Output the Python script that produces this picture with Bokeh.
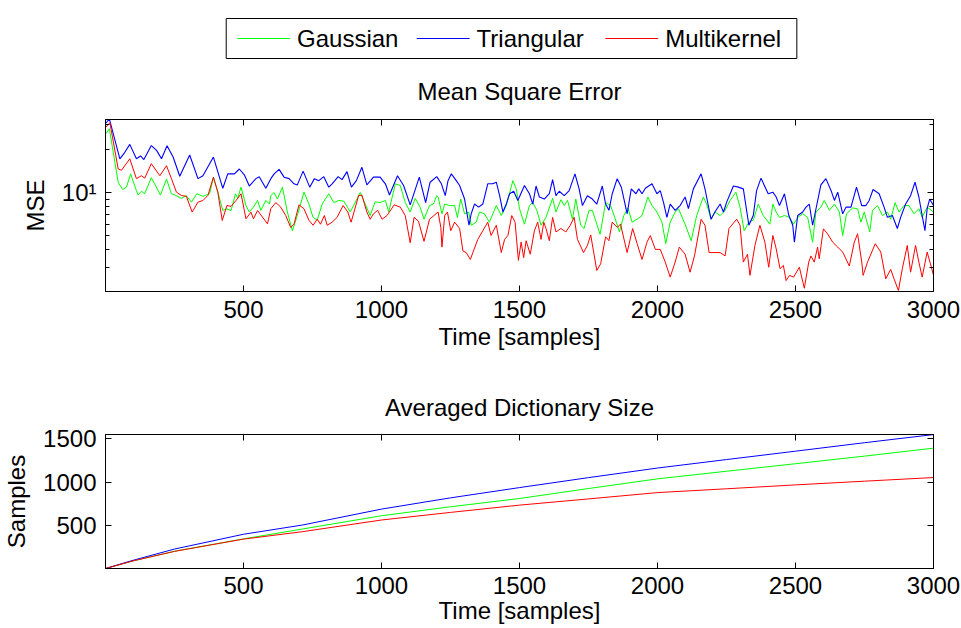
from bokeh.plotting import figure
from bokeh.layouts import column
from bokeh.models import Range1d, FixedTicker, LinearAxis, LogAxis
from bokeh.core.properties import value
from bokeh.embed import file_html
from bokeh.resources import INLINE

FONT = "Liberation Sans"
FS = "24px"
C_GAUSS = "#00ff00"
C_TRI = "#0000ff"
C_MULTI = "#ff0000"

series_names = ["Gaussian", "Triangular", "Multikernel"]
series_colors = [C_GAUSS, C_TRI, C_MULTI]
x_ticks = [500, 1000, 1500, 2000, 2500, 3000]
mse_major_ticks = [10]
mse_minor_ticks = [3, 4, 5, 6, 7, 8, 9, 20, 30]
size_ticks = [500, 1000, 1500]

# ---- Mean square error, Triangular kernel (blue)
tri_mse_t = [1, 14, 52, 70, 88, 112, 127, 139, 166, 185, 203, 223, 245, 269, 305, 335, 353, 391, 425, 443, 467, 485, 503, 521, 545, 557, 581,
             599, 611, 629, 647, 665, 683, 695, 716, 740, 757, 773, 791, 809, 821, 843, 857, 875, 891, 909, 929, 947, 971, 995, 1014, 1029, 1058, 1080, 1104, 1137, 1160, 1176, 1200,
             1205, 1217, 1231, 1241, 1253, 1271, 1283, 1301, 1317, 1325, 1337, 1352, 1367, 1385, 1403, 1416, 1428, 1440, 1452, 1464, 1479, 1494, 1518, 1536, 1548, 1560, 1572, 1590, 1608, 1620, 1632, 1644, 1662, 1680, 1701, 1716, 1728, 1746, 1764, 1780, 1800,
             1812, 1824, 1836, 1854, 1869, 1890, 1905, 1922, 1932, 1944, 1956, 1980, 1998, 2010, 2022, 2034, 2046, 2064, 2082, 2100, 2112, 2130, 2158, 2172, 2194, 2208, 2227, 2239, 2251, 2275, 2293, 2311, 2331, 2347, 2359, 2375, 2401,
             2418, 2430, 2442, 2460, 2476, 2490, 2496, 2508, 2526, 2538, 2550, 2562, 2592, 2610, 2629, 2641, 2653, 2671, 2683, 2701, 2721, 2740, 2755, 2767, 2781, 2803, 2821, 2833, 2851, 2869, 2881, 2899, 2917, 2933, 2947, 2959, 2969, 2977, 2986, 3000]
tri_mse = [30.5, 32.7, 17.2, 19.1, 21.7, 17.2, 18.0, 17.0, 21.3, 19.7, 17.2, 21.2, 17.7, 13.0, 18.3, 12.5, 13.1, 17.7, 10.7, 13.5, 13.5, 14.6, 13.3, 11.1, 12.5, 12.9, 10.7,
           12.5, 13.5, 14.5, 12.8, 12.5, 11.5, 11.3, 14.1, 10.9, 12.5, 12.1, 12.9, 10.9, 11.5, 12.9, 12.3, 14.0, 10.9, 12.1, 15.0, 11.3, 12.8, 12.8, 11.5, 9.6, 13.1, 11.2, 8.2, 12.8, 8.5, 11.8, 12.9,
           12.5, 11.5, 9.5, 12.1, 13.5, 12.1, 11.2, 9.0, 5.9, 7.1, 8.3, 7.9, 8.3, 11.5, 11.5, 11.8, 9.5, 7.3, 8.3, 9.8, 10.2, 8.8, 11.2, 9.8, 8.3, 11.1, 9.3, 9.0, 9.8, 12.3, 9.5, 10.2, 9.5, 10.3, 13.5, 10.6, 8.1, 9.5, 9.0, 8.3, 11.1,
           8.3, 7.5, 9.8, 12.5, 10.9, 7.1, 10.6, 9.8, 10.6, 9.8, 10.7, 11.5, 9.8, 10.3, 8.5, 6.7, 8.3, 7.5, 8.1, 9.3, 7.7, 10.6, 13.5, 10.6, 6.5, 7.3, 8.3, 7.3, 8.6, 11.1, 10.9, 10.6, 5.9, 6.9, 10.3, 12.6, 9.8,
           10.05, 9.3, 8.1, 9.8, 6.9, 5.9, 4.49, 6.9, 7.3, 7.9, 8.3, 5.9, 11.3, 12.5, 10.3, 8.8, 10.05, 7.1, 7.9, 7.9, 10.9, 8.1, 8.1, 8.8, 10.5, 9.8, 7.9, 6.7, 6.9, 5.6, 6.7, 8.3, 9.5, 11.8, 9.3, 6.9, 5.4, 7.7, 9.0, 8.1]

# ---- Mean square error, Gaussian kernel (green)
gauss_mse_t = [1, 14, 46, 62, 76, 91, 112, 118, 130, 142, 166, 199, 221, 239, 257, 275, 293, 311, 331, 353, 377, 391, 407, 425, 440, 455, 471, 479, 491, 509, 521, 536, 551, 563, 581, 594,
               599, 611, 623, 641, 659, 677, 695, 719, 737, 752, 767, 785, 809, 827, 845, 863, 887, 923, 941, 959, 977, 995, 1014, 1026, 1050, 1068, 1086, 1104, 1122, 1140, 1154, 1174, 1188, 1200,
               1205, 1219, 1229, 1247, 1265, 1275, 1287, 1301, 1316, 1325, 1343, 1355, 1373, 1391, 1416, 1434, 1452, 1476, 1488, 1500, 1518, 1536, 1548, 1563, 1578, 1596, 1620, 1632, 1650, 1662, 1674, 1692, 1704, 1722, 1734, 1752, 1764, 1792,
               1812, 1830, 1845, 1862, 1878, 1893, 1908, 1926, 1944, 1965, 1980, 1998, 2016, 2030, 2046, 2064, 2076, 2100, 2122, 2142, 2166, 2178, 2194, 2208, 2227, 2245, 2263, 2284, 2299, 2314, 2331, 2347, 2365, 2383, 2407,
               2418, 2430, 2442, 2460, 2478, 2493, 2508, 2526, 2544, 2562, 2574, 2592, 2604, 2623, 2641, 2659, 2671, 2685, 2707, 2725, 2737, 2749, 2769, 2779, 2797, 2815, 2833, 2845, 2861, 2875, 2893, 2911, 2929, 2947, 2959, 2977, 3000]
gauss_mse = [25.7, 27.9, 11.8, 10.5, 10.9, 13.5, 10.3, 9.6, 10.2, 9.8, 12.7, 9.6, 12.4, 9.8, 9.5, 9.1, 9.5, 8.56, 9.8, 9.4, 9.8, 12.8, 10.05, 7.48, 7.69, 7.48, 9.8, 9.1, 10.9, 8.1, 7.3, 7.9, 8.8, 7.5, 8.8, 8.3,
             9.5, 10.0, 9.0, 10.9, 7.3, 5.4, 6.9, 10.05, 8.3, 6.7, 6.4, 8.3, 9.8, 8.5, 8.8, 8.7, 7.3, 10.0, 8.3, 6.9, 8.6, 8.5, 8.8, 7.3, 11.5, 11.2, 8.5, 7.3, 9.1, 7.9, 6.5, 8.1, 8.3, 9.5,
             9.3, 7.1, 8.3, 8.1, 8.1, 6.7, 9.0, 7.1, 7.3, 5.9, 6.2, 7.3, 7.1, 6.2, 8.1, 6.9, 8.1, 12.1, 10.6, 7.7, 6.0, 8.1, 8.5, 7.5, 5.9, 6.7, 9.1, 7.3, 8.9, 8.1, 8.8, 6.5, 9.0, 5.9, 5.6, 7.5, 7.5, 5.1,
             8.5, 8.1, 6.7, 5.3, 6.9, 7.8, 6.2, 6.5, 6.9, 9.3, 8.1, 7.3, 6.2, 4.4, 6.2, 7.3, 7.7, 6.0, 4.6, 6.9, 9.3, 8.3, 6.5, 7.3, 6.9, 7.5, 8.8, 10.05, 7.9, 5.4, 6.2, 6.4, 8.3, 6.9, 6.0,
             8.3, 7.3, 6.7, 6.9, 6.7, 6.0, 6.7, 7.1, 6.7, 4.49, 7.3, 7.9, 8.8, 7.5, 8.3, 7.3, 5.0, 7.1, 7.8, 7.7, 6.2, 7.3, 5.3, 7.5, 8.1, 6.9, 7.3, 6.5, 8.5, 7.3, 8.1, 8.1, 7.1, 7.7, 6.7, 7.9, 7.3]

# ---- Mean square error, Multikernel (red)
multi_mse_t = [1, 16, 46, 58, 88, 112, 130, 142, 166, 197, 221, 239, 257, 275, 293, 314, 335, 353, 371, 391, 407, 423, 440, 455, 473, 491, 509, 527, 536, 551, 587,
               599, 617, 635, 653, 671, 683, 701, 719, 737, 752, 767, 779, 793, 803, 821, 839, 861, 878, 890, 917, 929, 947, 959, 971, 986, 1002, 1020, 1046, 1068, 1086, 1104, 1118, 1134, 1154, 1174, 1194,
               1205, 1215, 1219, 1229, 1239, 1251, 1265, 1283, 1295, 1307, 1322, 1331, 1349, 1367, 1385, 1397, 1416, 1434, 1446, 1458, 1472, 1484, 1496, 1506, 1515, 1524, 1539, 1554, 1566, 1578, 1588, 1596, 1608, 1620, 1632, 1650, 1668, 1684, 1698, 1710, 1732, 1746, 1758, 1780, 1794,
               1812, 1824, 1836, 1854, 1866, 1890, 1910, 1926, 1944, 1962, 1974, 1992, 2010, 2028, 2046, 2064, 2079, 2100, 2118, 2134, 2158, 2172, 2187, 2208, 2227, 2245, 2259, 2287, 2299, 2311, 2326, 2335, 2353, 2371, 2389, 2403,
               2418, 2430, 2444, 2456, 2466, 2478, 2493, 2514, 2532, 2548, 2556, 2568, 2580, 2586, 2601, 2616, 2635, 2653, 2671, 2695, 2713, 2725, 2740, 2745, 2761, 2789, 2809, 2827, 2845, 2857, 2873, 2887, 2905, 2917, 2935, 2947, 2959, 2977, 2989, 3000]
multi_mse = [28.6, 30.8, 14.6, 14.3, 17.2, 12.5, 13.1, 12.6, 15.9, 13.1, 15.4, 12.5, 10.05, 9.53, 9.4, 7.29, 8.56, 8.79, 9.53, 12.8, 10.05, 6.37, 8.11, 8.0, 8.79, 9.8, 6.54, 7.29, 6.54, 7.48, 6.04,
             7.7, 8.5, 7.9, 6.9, 5.7, 6.0, 8.2, 7.7, 6.4, 5.9, 6.5, 6.0, 6.9, 5.9, 6.2, 6.7, 8.1, 7.3, 6.2, 9.5, 9.6, 7.3, 6.5, 7.1, 7.5, 6.5, 6.9, 8.2, 7.9, 6.9, 4.45, 6.7, 6.3, 4.55, 6.5, 7.0,
             7.3, 5.7, 4.15, 6.9, 7.3, 5.4, 6.2, 5.6, 3.9, 3.8, 3.4, 3.8, 4.7, 5.4, 6.2, 5.0, 5.9, 3.8, 4.7, 5.0, 6.9, 6.2, 3.35, 4.5, 3.5, 4.6, 3.7, 5.4, 6.2, 4.7, 6.2, 5.6, 4.6, 6.7, 5.3, 5.6, 5.3, 5.9, 6.7, 4.7, 3.8, 4.26, 5.05, 2.85, 3.17,
             4.9, 4.6, 6.2, 5.7, 6.0, 3.8, 5.6, 4.4, 3.4, 4.5, 5.0, 4.0, 4.0, 3.26, 2.56, 3.26, 4.15, 3.7, 2.77, 3.6, 6.5, 5.9, 3.8, 3.8, 3.8, 3.6, 5.6, 6.5, 5.9, 3.26, 3.7, 2.63, 4.26, 5.9, 4.5, 3.0,
             5.0, 4.04, 2.93, 3.09, 2.42, 2.63, 2.56, 3.0, 2.14, 3.26, 3.6, 3.26, 4.15, 3.44, 5.57, 5.14, 4.49, 4.15, 3.83, 3.06, 4.49, 5.14, 3.26, 2.63, 3.26, 4.38, 3.83, 2.49, 2.9, 2.49, 2.06, 2.93, 4.26, 2.77, 4.26, 3.26, 2.56, 3.83, 3.17, 2.63]

# ---- Averaged dictionary size
size_t = [0, 100, 250, 500, 714, 1000, 1250, 1500, 1750, 2000, 2250, 2500, 2750, 3000]
tri_size = [0, 95, 225, 396, 503, 687, 817, 936, 1051, 1162, 1260, 1357, 1455, 1549]
gauss_size = [0, 88, 200, 342, 457, 610, 714, 810, 925, 1037, 1125, 1212, 1300, 1392]
multi_size = [0, 88, 198, 340, 426, 561, 649, 733, 805, 878, 922, 967, 1010, 1052]


def style_axis(ax, labels=True, minor=False):
    ax.axis_line_color = "black"
    ax.axis_line_width = 1
    ax.major_tick_in = 6
    ax.major_tick_out = 0
    ax.minor_tick_in = 4
    ax.minor_tick_out = 0
    ax.major_tick_line_color = "black"
    ax.minor_tick_line_color = "black" if minor else None
    ax.major_label_text_font = FONT
    ax.major_label_text_font_size = FS if labels else "1px"
    ax.major_label_text_color = "black" if labels else None
    ax.major_label_standoff = 9 if labels else 0
    ax.axis_label_text_font = FONT
    ax.axis_label_text_font_size = FS
    ax.axis_label_text_font_style = "normal"
    ax.axis_label_text_color = "black"


def style_title(p, standoff):
    p.title.text_font = FONT
    p.title.text_font_size = FS
    p.title.text_font_style = "normal"
    p.title.text_color = "black"
    p.title.align = "center"
    p.title.standoff = standoff


# ---------------- legend key strip (screen-pixel coordinates of the key layout)
# the strip's frame is aligned with the plots below (x 103..933), y runs downward 0..59
KEY_BOX = dict(left=224, right=796, top=18, bottom=58)
KEY_Y = 38
KEY_LINE_X0 = [235, 415, 604]
KEY_LINE_LEN = 53
KEY_TEXT_GAP = 7

leg = figure(width=961, height=59, x_range=Range1d(103, 933), y_range=Range1d(59, 0),
             x_axis_type=None, y_axis_type=None, output_backend="svg",
             toolbar_location=None, min_border=0, outline_line_color=None)
leg.grid.visible = False
leg.quad(left=[KEY_BOX["left"]], right=[KEY_BOX["right"]], top=[KEY_BOX["top"]],
         bottom=[KEY_BOX["bottom"]], fill_color="white", line_color="black", line_width=1)
leg.segment(x0=KEY_LINE_X0, x1=[x + KEY_LINE_LEN for x in KEY_LINE_X0],
            y0=[KEY_Y] * 3, y1=[KEY_Y] * 3, line_color=series_colors, line_width=1)
leg.text(x=[x + KEY_LINE_LEN + KEY_TEXT_GAP for x in KEY_LINE_X0], y=[KEY_Y] * 3,
         text=series_names, text_font=value(FONT), text_font_size=value(FS),
         text_color="black", text_align="left", text_baseline="middle")

# ---------------- MSE plot
xt = FixedTicker(ticks=x_ticks)
yt = FixedTicker(ticks=mse_major_ticks, minor_ticks=mse_minor_ticks)
top = figure(width=961, height=316, x_range=Range1d(0, 3000), y_range=Range1d(2.03, 32.4),
             y_axis_type="log", output_backend="svg", toolbar_location=None,
             min_border_left=103, min_border_right=28, min_border_top=60, min_border_bottom=84,
             title="Mean Square Error", outline_line_color="black", outline_line_width=1)
top.grid.visible = False
top.xaxis.ticker = xt
top.yaxis.ticker = yt
top.yaxis.major_label_overrides = {10: "10\u00b9"}
top.xaxis.axis_label = "Time [samples]"
top.yaxis.axis_label = "MSE"
for ax in top.xaxis:
    style_axis(ax, True)
for ax in top.yaxis:
    style_axis(ax, True, minor=True)
top.xaxis.axis_label_standoff = 2
top.yaxis.axis_label_standoff = 10
ax_top = LinearAxis(ticker=xt)
style_axis(ax_top, False)
top.add_layout(ax_top, "above")
ax_right = LogAxis(ticker=yt)
style_axis(ax_right, False, minor=True)
top.add_layout(ax_right, "right")
style_title(top, 29)

top.line(gauss_mse_t, gauss_mse, line_color=C_GAUSS, line_width=1)
top.line(tri_mse_t, tri_mse, line_color=C_TRI, line_width=1.1)
top.line(multi_mse_t, multi_mse, line_color=C_MULTI, line_width=1)

# ---------------- Dictionary size plot
st = FixedTicker(ticks=size_ticks)
bot = figure(width=961, height=253, x_range=Range1d(0, 3000), y_range=Range1d(0, 1550),
             output_backend="svg", toolbar_location=None,
             min_border_left=103, min_border_right=28, min_border_top=59, min_border_bottom=60,
             title="Averaged Dictionary Size", outline_line_color="black", outline_line_width=1)
bot.grid.visible = False
bot.xaxis.ticker = xt
bot.yaxis.ticker = st
bot.xaxis.axis_label = "Time [samples]"
bot.yaxis.axis_label = "Samples"
for ax in bot.xaxis:
    style_axis(ax, True)
for ax in bot.yaxis:
    style_axis(ax, True)
bot.xaxis.axis_label_standoff = 0
bot.xaxis.major_label_standoff = 8
bot.yaxis.axis_label_standoff = 10
bx_top = LinearAxis(ticker=xt)
style_axis(bx_top, False)
bot.add_layout(bx_top, "above")
by_right = LinearAxis(ticker=st)
style_axis(by_right, False)
bot.add_layout(by_right, "right")
style_title(bot, 28)

bot.line(size_t, gauss_size, line_color=C_GAUSS, line_width=1)
bot.line(size_t, tri_size, line_color=C_TRI, line_width=1)
bot.line(size_t, multi_size, line_color=C_MULTI, line_width=1)

layout = column(leg, top, bot, spacing=0)
open("out.html", "w").write(file_html(layout, INLINE))
